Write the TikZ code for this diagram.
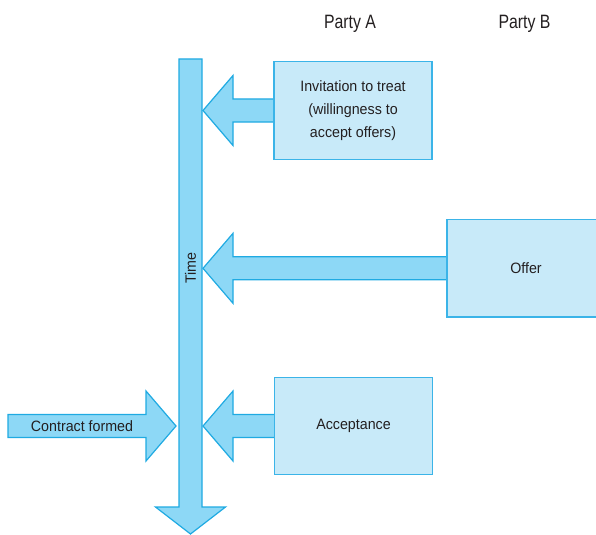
\documentclass[tikz,border=0pt]{standalone}
\usepackage{fontspec}
\setmainfont{Liberation Sans}[FakeStretch=0.95]
\newfontfamily\headfont{Liberation Sans}[FakeStretch=0.82]
\usetikzlibrary{calc,backgrounds}
\definecolor{arrowfill}{HTML}{8DD8F6}
\definecolor{arrowline}{HTML}{1FAAE2}
\definecolor{boxfill}{HTML}{C8EAF9}
\definecolor{boxline}{HTML}{3BB4E8}
\definecolor{inkgrey}{HTML}{231F20}
\tikzset{
  blockarrow/.style={fill=arrowfill, draw=arrowline, line width=0.9pt, line join=miter},
  partybox/.style={fill=boxfill, draw=boxline, line width=0.9pt, minimum width=118.5pt,
    minimum height=73pt, inner sep=0pt, align=center, text=inkgrey,
    font=\fontsize{11.25}{17.25}\selectfont},
  label/.style={text=inkgrey, font=\fontsize{11.25}{13}\selectfont, inner sep=0pt},
  heading/.style={text=inkgrey, font=\headfont\fontsize{14.5}{16}\selectfont, inner sep=0pt, anchor=base}
}
\begin{document}
\begin{tikzpicture}[x=0.75pt, y=-0.75pt]
  \useasboundingbox (0,0) rectangle (596,535);
  \clip (0,0) rectangle (596,535);

  % column headings
  \node[heading] (pa) at (350,29) {Party A};
  \node[heading] (pb) at (524.5,29) {Party B};

  % the three steps
  \node[partybox] (inv) at (353,110.5) {Invitation to treat\\(willingness to\\accept offers)};
  \node[partybox] (off) at (526,268.3) {Offer};
  \node[partybox] (acc) at (353.5,426) {Acceptance};

  \begin{scope}[on background layer]
    % time line running downwards
    \coordinate (ttop) at (190.5,59);
    \coordinate (ttip) at (190.5,534);
    \draw[blockarrow] ($(ttop)+(-11.5,0)$) -- ($(ttop)+(11.5,0)$)
      -- ($(ttip)+(11.5,-27)$) -- ($(ttip)+(35,-27)$) -- (ttip)
      -- ($(ttip)+(-35,-27)$) -- ($(ttip)+(-11.5,-27)$) -- cycle;

    % arrows from each step onto the time line
    \foreach \b in {inv, off, acc}{
      \path let \p1 = (\b.west) in
        coordinate (s1) at (\x1,\y1)
        coordinate (tip) at (203,\y1);
      \draw[blockarrow] ($(s1)+(0,-11.5)$) -- ($(tip)+(30,-11.5)$) -- ($(tip)+(30,-35)$)
        -- (tip) -- ($(tip)+(30,35)$) -- ($(tip)+(30,11.5)$) -- ($(s1)+(0,11.5)$);
    }
  \end{scope}
  \node[label, rotate=90] (time) at (190.5,268) {Time};

  % contract formed
  \coordinate (cftip) at (176,426);
  \draw[blockarrow] (8,414.5) -- ($(cftip)+(-30,-11.5)$) -- ($(cftip)+(-30,-35)$)
    -- (cftip) -- ($(cftip)+(-30,35)$) -- ($(cftip)+(-30,11.5)$) -- (8,437.5) -- cycle;
  \node[label] (cf) at (82,426) {Contract formed};
\end{tikzpicture}
\end{document}
